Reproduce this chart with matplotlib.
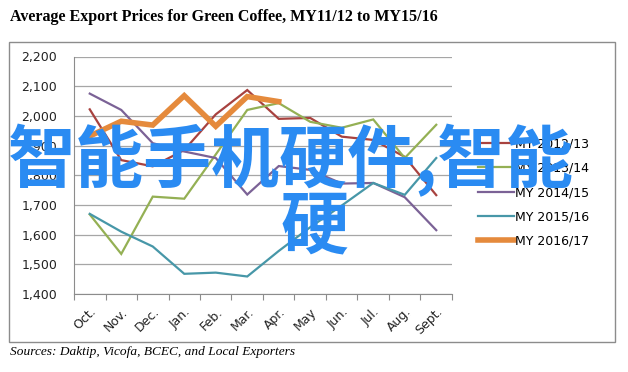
import numpy as np
import matplotlib
matplotlib.use('Agg')
import matplotlib.pyplot as plt
from matplotlib.patches import Rectangle

months = ['Oct.', 'Nov.', 'Dec.', 'Jan.', 'Feb.', 'Mar.', 'Apr.', 'May', 'Jun.', 'Jul.', 'Aug.', 'Sept.']
my1213 = [2022, 1851, 1830, 1885, 2005, 2087, 1990, 1993, 1930, 1919, 1862, 1733]
my1314 = [1668, 1535, 1728, 1721, 1870, 2020, 2043, 1980, 1960, 1988, 1858, 1970]
my1415 = [2075, 2020, 1908, 1880, 1858, 1735, 1831, 1818, 1772, 1774, 1726, 1615]
my1516 = [1670, 1610, 1560, 1468, 1472, 1459, 1545, 1625, 1698, 1774, 1734, 1858]
my1617 = [1932, 1982, 1969, 2068, 1965, 2065, 2048]

series = [
    ('MY 2012/13', my1213, '#A8423F', 1.6),
    ('MY 2013/14', my1314, '#94B054', 1.6),
    ('MY 2014/15', my1415, '#7B6296', 1.6),
    ('MY 2015/16', my1516, '#4797A8', 1.6),
    ('MY 2016/17', my1617, '#E58A3C', 4.0),
]

fig = plt.figure(figsize=(6.28, 3.72), dpi=100)
W, H = 628, 372

# outer chart frame
fig.patches.append(Rectangle((9 / W, 1 - 342 / H), 606 / W, 300 / H, transform=fig.transFigure,
                             fill=False, edgecolor='#8c8c8c', linewidth=1.0))

ax = fig.add_axes([74 / W, 1 - 294 / H, 378 / W, (294 - 56.5) / H])
x = np.arange(len(months))
for name, vals, col, lw in series:
    ax.plot(x[:len(vals)], vals, color=col, lw=lw, label=name, solid_joinstyle='miter')

ax.set_xlim(-0.5, len(months) - 0.5)
ax.set_ylim(1400, 2200)
ax.set_yticks(np.arange(1400, 2201, 100))
ax.set_yticklabels(['{:,}'.format(v) for v in range(1400, 2201, 100)], fontsize=9, color='#222222')
ax.yaxis.grid(True, color='#a6a6a6', lw=0.9)
ax.set_axisbelow(True)
ax.tick_params(axis='y', length=0, pad=12)

ax.set_xticks(np.arange(-0.5, len(months)), minor=False)
ax.set_xticklabels([])
ax.set_xticks(x, minor=True)
ax.set_xticklabels(months, minor=True, rotation=45, ha='right', va='top',
                   rotation_mode='anchor', fontsize=9, color='#222222')
ax.tick_params(axis='x', which='major', length=4, color='#8c8c8c', direction='out')
ax.tick_params(axis='x', which='minor', length=0, pad=8)

for s in ['top', 'right']:
    ax.spines[s].set_visible(False)
for s in ['left', 'bottom']:
    ax.spines[s].set_color('#8c8c8c')

ax.legend(loc='upper left', bbox_to_anchor=(1.055, 0.68), frameon=False, fontsize=9,
          handlelength=2.9, handletextpad=0.1, labelspacing=0.9, borderaxespad=0)

fig.text(10 / W, 1 - 17 / H, 'Average Export Prices for Green Coffee, MY11/12 to MY15/16',
         family='Liberation Serif', weight='bold', fontsize=11.5, va='center', ha='left')
fig.text(10 / W, 1 - 352 / H, 'Sources: Daktip, Vicofa, BCEC, and Local Exporters',
         family='Liberation Serif', style='italic', fontsize=9.6, va='center', ha='left')

# big overlay text
fig.text(8 / W, 1 - 161 / H, '智能手机硬件,智能', family=['Noto Sans CJK SC', 'DejaVu Sans'],
         weight='bold', fontsize=49, color='#2A8BF2', va='center', ha='left')
fig.text(314 / W, 1 - 228 / H, '硬', family=['Noto Sans CJK SC', 'DejaVu Sans'],
         weight='bold', fontsize=49, color='#2A8BF2', va='center', ha='center')

fig.savefig('out.png', dpi=100)
